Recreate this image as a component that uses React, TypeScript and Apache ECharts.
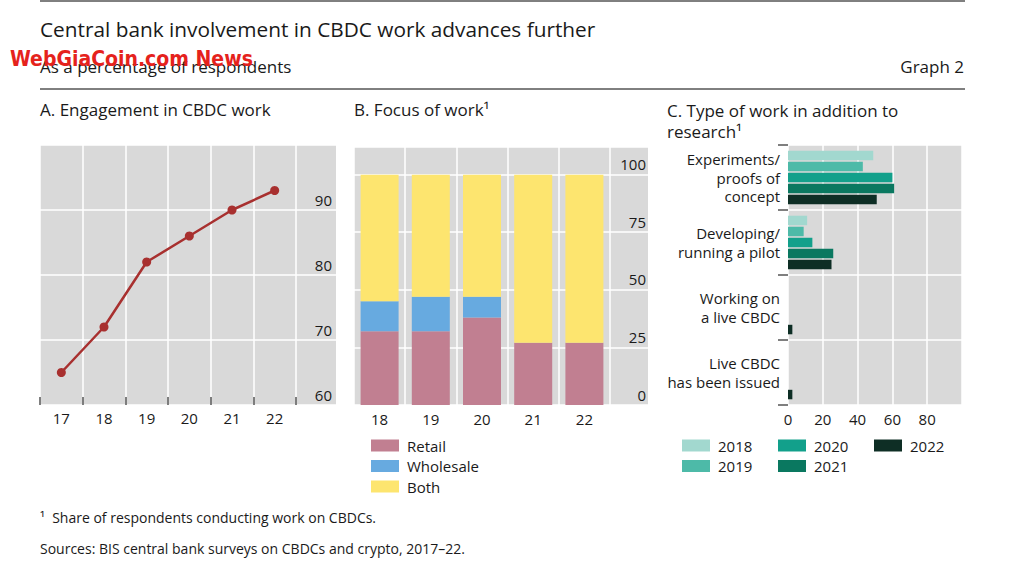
import React, { useEffect, useRef } from "react";
import * as echarts from "echarts";

// Panel A: engagement in CBDC work (% of respondents)
const engagementYears = ["17", "18", "19", "20", "21", "22"];
const engagement = [65, 72, 82, 86, 90, 93];

// Panel B: focus of work
const focusYears = ["18", "19", "20", "21", "22"];
const retail = [32, 32, 38, 27, 27];
const wholesale = [13, 15, 9, 0, 0];
const both = [55, 53, 53, 73, 73];

// Panel C: type of work in addition to research
const workTypes = [
  "Experiments/\nproofs of\nconcept",
  "Developing/\nrunning a pilot",
  "Working on\na live CBDC",
  "Live CBDC\nhas been issued",
];
const workYears = ["2018", "2019", "2020", "2021", "2022"];
const work2018 = [49, 11, 0, 0];
const work2019 = [43, 9, 0, 0];
const work2020 = [60, 14, 0, 0];
const work2021 = [61, 26, 0, 0];
const work2022 = [51, 25, 2.5, 2.5];

const FONT = "Open Sans";
const TXT = "#1a1a1a";
const GREY = "#d9d9d9";
const focusColors = ["#c17f91", "#67aae0", "#fde56f"];
const workColors = ["#a2d8cf", "#4dbaa8", "#12a08b", "#0a7860", "#0e2e25"];

export default function App() {
  const ref = useRef<HTMLDivElement>(null);
  useEffect(() => {
    if (!ref.current) return;
    const chart = echarts.init(ref.current, null, { renderer: "svg" });
    const workData = [work2018, work2019, work2020, work2021, work2022];
    const splitWhite = { show: true, lineStyle: { color: "#ffffff", width: 1.5 } };
    const label15 = { fontSize: 15, color: TXT, fontFamily: FONT };
    const legendBase = {
      top: 438,
      orient: "vertical",
      padding: 0,
      itemWidth: 28,
      itemHeight: 12,
      itemGap: 5.5,
      icon: "rect",
      textStyle: { ...label15, padding: [0, 0, 0, 3] },
    };

    const option: any = {
      animation: false,
      textStyle: { fontFamily: FONT },
      grid: [
        { left: 40, top: 145, width: 296, height: 260, show: true, backgroundColor: GREY, borderWidth: 0 },
        { left: 40, top: 145, width: 256, height: 260 },
        { left: 354, top: 147, width: 294, height: 258, show: true, backgroundColor: GREY, borderWidth: 0 },
        { left: 354, top: 147, width: 256, height: 258 },
        { left: 788, top: 145, width: 174, height: 260, show: true, backgroundColor: GREY, borderWidth: 0 },
      ],
      xAxis: [
        { gridIndex: 0, type: "value", show: false, min: 0, max: 1 },
        {
          gridIndex: 1,
          type: "category",
          data: engagementYears,
          boundaryGap: true,
          axisLine: { show: false },
          axisTick: { show: true, inside: true, length: 8, lineStyle: { color: "#555", width: 1.5 } },
          axisLabel: { ...label15, margin: 5 },
          splitLine: splitWhite,
        },
        { gridIndex: 2, type: "value", show: false, min: 0, max: 1 },
        {
          gridIndex: 3,
          type: "category",
          data: focusYears,
          axisLine: { show: false },
          axisTick: { show: false },
          axisLabel: { ...label15, margin: 6 },
          splitLine: splitWhite,
        },
        {
          gridIndex: 4,
          type: "value",
          min: 0,
          max: 100,
          interval: 20,
          axisLine: { show: false },
          axisTick: { show: false },
          axisLabel: { ...label15, margin: 6, showMaxLabel: false },
          splitLine: splitWhite,
        },
      ],
      yAxis: [
        {
          gridIndex: 0,
          type: "value",
          min: 60,
          max: 100,
          interval: 10,
          position: "right",
          axisLine: { show: false },
          axisTick: { show: false },
          axisLabel: {
            ...label15,
            inside: true,
            margin: 4,
            verticalAlign: "bottom",
            padding: [0, 0, 3, 0],
            showMaxLabel: false,
          },
          splitLine: splitWhite,
        },
        { gridIndex: 1, type: "value", min: 60, max: 100, show: false },
        {
          gridIndex: 2,
          type: "value",
          min: 0,
          max: 112,
          interval: 25,
          position: "right",
          axisLine: { show: false },
          axisTick: { show: false },
          axisLabel: {
            ...label15,
            inside: true,
            margin: 2,
            verticalAlign: "bottom",
            padding: [0, 0, 3, 0],
            showMaxLabel: false,
            formatter: (v: number) => (v % 25 === 0 ? String(v) : ""),
          },
          splitLine: splitWhite,
        },
        { gridIndex: 3, type: "value", min: 0, max: 112, show: false },
        {
          gridIndex: 4,
          type: "category",
          data: workTypes,
          inverse: true,
          axisLine: { show: false },
          axisTick: { show: true, length: 10, lineStyle: { color: "#555", width: 1.5 } },
          axisLabel: { ...label15, margin: 8, lineHeight: 18.5, align: "right", padding: [0, 0, 4, 0] },
          splitLine: splitWhite,
        },
      ],
      legend: [
        { ...legendBase, left: 371, data: ["Retail", "Wholesale", "Both"] },
        { ...legendBase, left: 682, data: ["2018", "2019"] },
        { ...legendBase, left: 778, data: ["2020", "2021"] },
        { ...legendBase, left: 874, data: ["2022"] },
      ],
      series: [
        {
          type: "line",
          name: "Engagement",
          xAxisIndex: 1,
          yAxisIndex: 1,
          data: engagement,
          symbol: "circle",
          symbolSize: 9,
          itemStyle: { color: "#a8302f" },
          lineStyle: { color: "#a8302f", width: 2.5 },
        },
        ...[
          ["Retail", retail],
          ["Wholesale", wholesale],
          ["Both", both],
        ].map(([name, data], i) => ({
          type: "bar",
          name,
          xAxisIndex: 3,
          yAxisIndex: 3,
          stack: "focus",
          barWidth: 38,
          data,
          itemStyle: { color: focusColors[i] },
        })),
        ...workYears.map((name, i) => ({
          type: "bar",
          name,
          xAxisIndex: 4,
          yAxisIndex: 4,
          barWidth: 9.5,
          barGap: "16%",
          data: workData[i],
          itemStyle: { color: workColors[i] },
        })),
      ],
      graphic: [
        { type: "line", shape: { x1: 40, y1: 1, x2: 965, y2: 1 }, style: { stroke: "#000", lineWidth: 1 } },
        { type: "line", shape: { x1: 40, y1: 89, x2: 965, y2: 89 }, style: { stroke: "#000", lineWidth: 1 } },
        {
          type: "text",
          left: 40,
          top: 18,
          style: { text: "Central bank involvement in CBDC work advances further", fontSize: 20.8, fontFamily: FONT, fill: TXT },
        },
        {
          type: "text",
          left: 40,
          top: 58,
          style: { text: "As a percentage of respondents", fontSize: 17, fontFamily: FONT, fill: TXT },
        },
        {
          type: "text",
          right: 50,
          top: 58,
          style: { text: "Graph 2", fontSize: 17, fontFamily: FONT, fill: TXT },
        },
        {
          type: "text",
          left: 10,
          top: 48,
          style: {
            text: "WebGiaCoin.com News",
            fontSize: 21,
            fontWeight: "bold",
            fontFamily: "'DejaVu Sans Condensed', 'Liberation Sans', sans-serif",
            fill: "#e5221c",
          },
        },
        {
          type: "text",
          left: 40,
          top: 101,
          style: { text: "A. Engagement in CBDC work", fontSize: 17, fontFamily: FONT, fill: TXT },
        },
        {
          type: "text",
          left: 354,
          top: 101,
          style: { text: "B. Focus of work¹", fontSize: 17, fontFamily: FONT, fill: TXT },
        },
        {
          type: "text",
          left: 667,
          top: 100,
          style: {
            text: "C. Type of work in addition to\nresearch¹",
            fontSize: 17,
            lineHeight: 21,
            fontFamily: FONT,
            fill: TXT,
          },
        },
        {
          type: "text",
          left: 40,
          top: 510,
          style: { text: "¹  Share of respondents conducting work on CBDCs.", fontSize: 14, fontFamily: FONT, fill: TXT },
        },
        {
          type: "text",
          left: 40,
          top: 541,
          style: {
            text: "Sources: BIS central bank surveys on CBDCs and crypto, 2017–22.",
            fontSize: 14,
            fontFamily: FONT,
            fill: TXT,
          },
        },
      ],
    };
    chart.setOption(option);
    return () => chart.dispose();
  }, []);
  return (
    <div
      ref={ref}
      style={{ position: "fixed", left: 0, top: 0, width: 1014, height: 570, background: "#fff" }}
    />
  );
}
